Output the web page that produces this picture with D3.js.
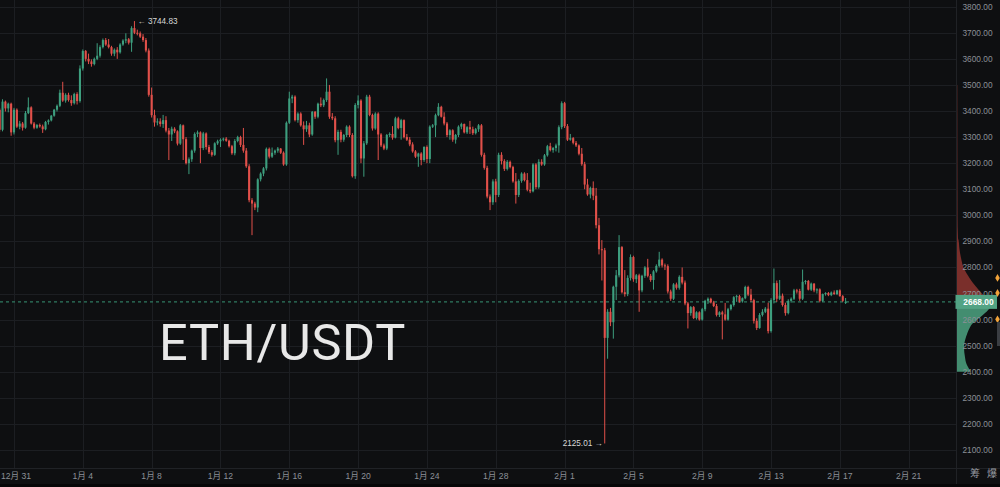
<!DOCTYPE html>
<html><head><meta charset="utf-8">
<script src="https://cdn.jsdelivr.net/npm/d3@7/dist/d3.min.js"></script>
<style>html,body{margin:0;padding:0;background:#0e0f11;overflow:hidden}</style>
</head><body>
<svg id="c" width="1000" height="487"></svg>
<script>
// ---------- DATA ----------
const title = "ETH/USDT";
const lastPrice = 2668.00;
const yTicks = [2100,2200,2300,2400,2500,2600,2700,2800,2900,3000,3100,3200,3300,3400,3500,3600,3700,3800];
const xTickDates = ["2024-12-31","2025-01-04","2025-01-08","2025-01-12","2025-01-16","2025-01-20","2025-01-24","2025-01-28","2025-02-01","2025-02-05","2025-02-09","2025-02-13","2025-02-17","2025-02-21"];
const xTickLabels = ["12月 31","1月 4","1月 8","1月 12","1月 16","1月 20","1月 24","1月 28","2月 1","2月 5","2月 9","2月 13","2月 17","2月 21"];
// 4-hour candles [open, high, low, close], grouped by day (local time); first day starts at 04:00
const days = ["2024-12-30","2024-12-31","2025-01-01","2025-01-02","2025-01-03","2025-01-04","2025-01-05","2025-01-06","2025-01-07","2025-01-08","2025-01-09","2025-01-10","2025-01-11","2025-01-12","2025-01-13","2025-01-14","2025-01-15","2025-01-16","2025-01-17","2025-01-18","2025-01-19","2025-01-20","2025-01-21","2025-01-22","2025-01-23","2025-01-24","2025-01-25","2025-01-26","2025-01-27","2025-01-28","2025-01-29","2025-01-30","2025-01-31","2025-02-01","2025-02-02","2025-02-03","2025-02-04","2025-02-05","2025-02-06","2025-02-07","2025-02-08","2025-02-09","2025-02-10","2025-02-11","2025-02-12","2025-02-13","2025-02-14","2025-02-15","2025-02-16","2025-02-17"];
const firstDayStartSlot = 1;
const candlesByDay = [
 [[3405,3412,3320,3328],[3328,3445,3322,3436],[3436,3440,3398,3410],[3410,3432,3395,3428],[3428,3432,3305,3318]],
 [[3318,3412,3310,3405],[3405,3410,3335,3340],[3340,3362,3330,3352],[3352,3358,3325,3336],[3336,3400,3332,3392],[3392,3452,3388,3414]],
 [[3414,3418,3348,3352],[3352,3358,3330,3336],[3336,3350,3332,3346],[3346,3352,3336,3341],[3341,3348,3316,3330],[3330,3362,3326,3358]],
 [[3358,3368,3348,3364],[3364,3385,3360,3382],[3382,3408,3378,3405],[3405,3425,3398,3420],[3420,3482,3415,3470],[3470,3512,3435,3440]],
 [[3440,3468,3432,3462],[3462,3470,3436,3442],[3442,3460,3420,3430],[3430,3470,3425,3465],[3465,3472,3425,3438],[3438,3575,3432,3563]],
 [[3563,3636,3555,3630],[3630,3634,3590,3600],[3600,3620,3580,3590],[3590,3598,3570,3580],[3580,3605,3575,3600],[3600,3660,3595,3612]],
 [[3612,3652,3605,3645],[3645,3678,3640,3672],[3672,3680,3650,3655],[3655,3676,3640,3645],[3645,3650,3612,3620],[3620,3640,3610,3635]],
 [[3635,3645,3600,3625],[3625,3660,3620,3655],[3655,3675,3650,3670],[3670,3698,3660,3675],[3675,3680,3655,3662],[3662,3725,3627,3718]],
 [[3718,3744.83,3695,3700],[3700,3712,3690,3698],[3698,3705,3680,3685],[3685,3695,3665,3672],[3672,3680,3625,3632],[3632,3640,3455,3462]],
 [[3462,3490,3375,3384],[3384,3405,3340,3356],[3356,3372,3345,3360],[3360,3372,3340,3350],[3350,3385,3335,3365],[3365,3380,3318,3325]],
 [[3325,3335,3212,3310],[3310,3340,3285,3332],[3332,3338,3315,3322],[3322,3326,3268,3275],[3275,3350,3270,3345],[3345,3348,3212,3292]],
 [[3292,3300,3195,3200],[3200,3222,3158,3215],[3215,3252,3205,3248],[3248,3318,3240,3312],[3312,3325,3300,3318],[3318,3322,3200,3258]],
 [[3258,3320,3250,3314],[3314,3318,3252,3262],[3262,3270,3235,3242],[3242,3250,3225,3232],[3232,3280,3228,3276],[3276,3290,3270,3284]],
 [[3284,3295,3262,3290],[3290,3298,3284,3294],[3294,3300,3282,3286],[3286,3290,3260,3265],[3265,3270,3232,3238],[3238,3292,3230,3285]],
 [[3285,3305,3280,3300],[3300,3305,3262,3270],[3270,3335,3240,3248],[3248,3258,3182,3188],[3188,3196,3050,3058],[3058,3066,2924,3045]],
 [[3045,3052,3020,3030],[3030,3142,3012,3138],[3138,3165,3130,3160],[3160,3185,3150,3180],[3180,3260,3172,3255],[3255,3260,3218,3225]],
 [[3225,3260,3220,3240],[3240,3252,3232,3248],[3248,3262,3240,3256],[3256,3258,3235,3240],[3240,3245,3190,3195],[3195,3360,3190,3355]],
 [[3355,3474,3350,3448],[3448,3462,3430,3455],[3455,3460,3360,3365],[3365,3395,3355,3390],[3390,3395,3340,3345],[3345,3360,3270,3330]],
 [[3330,3362,3320,3345],[3345,3355,3300,3310],[3310,3400,3305,3397],[3397,3400,3370,3378],[3378,3432,3372,3428],[3428,3452,3415,3422]],
 [[3422,3448,3415,3442],[3442,3525,3435,3474],[3474,3500,3370,3378],[3378,3392,3365,3372],[3372,3380,3280,3288],[3288,3328,3232,3320]],
 [[3320,3328,3280,3290],[3290,3312,3282,3308],[3308,3345,3300,3340],[3340,3345,3300,3308],[3308,3315,3145,3150],[3150,3430,3140,3423]],
 [[3423,3460,3410,3440],[3440,3445,3200,3218],[3218,3285,3148,3276],[3276,3462,3270,3455],[3455,3462,3380,3385],[3385,3390,3325,3333]],
 [[3333,3395,3328,3390],[3390,3395,3212,3310],[3310,3315,3262,3268],[3268,3275,3250,3256],[3256,3312,3250,3308],[3308,3318,3300,3312]],
 [[3312,3342,3290,3298],[3298,3378,3295,3372],[3372,3378,3330,3335],[3335,3370,3290,3365],[3365,3368,3295,3300],[3300,3312,3285,3290]],
 [[3290,3300,3265,3272],[3272,3280,3240,3245],[3245,3250,3220,3225],[3225,3240,3186,3237],[3237,3242,3192,3212],[3212,3265,3205,3262]],
 [[3262,3268,3200,3216],[3216,3345,3200,3340],[3340,3350,3335,3345],[3345,3390,3300,3384],[3384,3430,3380,3416],[3416,3420,3375,3378]],
 [[3378,3395,3345,3352],[3352,3358,3300,3308],[3308,3330,3290,3326],[3326,3330,3282,3290],[3290,3312,3275,3308],[3308,3345,3300,3340]],
 [[3340,3355,3330,3350],[3350,3352,3314,3318],[3318,3342,3312,3338],[3338,3362,3312,3330],[3330,3340,3308,3315],[3315,3335,3310,3330]],
 [[3330,3350,3320,3345],[3345,3350,3225,3232],[3232,3240,3175,3182],[3182,3190,3065,3072],[3072,3080,3020,3050],[3050,3138,3040,3130]],
 [[3130,3140,3050,3078],[3078,3240,3070,3232],[3232,3242,3195,3208],[3208,3215,3170,3178],[3178,3212,3172,3205],[3205,3210,3180,3185]],
 [[3185,3190,3125,3130],[3130,3162,3045,3078],[3078,3138,3070,3132],[3132,3165,3125,3160],[3160,3165,3130,3135],[3135,3162,3092,3098]],
 [[3098,3125,3085,3092],[3092,3200,3088,3195],[3195,3200,3100,3108],[3108,3215,3102,3205],[3205,3215,3190,3195],[3195,3235,3190,3230]],
 [[3230,3270,3225,3265],[3265,3278,3245,3250],[3250,3262,3240,3258],[3258,3275,3245,3268],[3268,3345,3240,3338],[3338,3437,3330,3430]],
 [[3430,3435,3335,3342],[3342,3350,3285,3290],[3290,3312,3286,3296],[3296,3300,3272,3278],[3278,3285,3262,3268],[3268,3272,3230,3236]],
 [[3236,3258,3190,3196],[3196,3205,3100,3118],[3118,3140,3075,3080],[3080,3110,3065,3105],[3105,3130,3058,3075],[3075,3105,2950,2962]],
 [[2962,2990,2850,2870],[2870,2905,2750,2866],[2866,2875,2125.01,2530],[2530,2640,2450,2630],[2630,2645,2575,2590],[2590,2730,2527,2726]],
 [[2726,2790,2675,2770],[2770,2924,2762,2878],[2878,2882,2700,2705],[2705,2790,2688,2698],[2698,2770,2690,2760],[2760,2850,2750,2840]],
 [[2840,2845,2745,2755],[2755,2775,2740,2770],[2770,2776,2630,2712],[2712,2772,2705,2768],[2768,2805,2760,2800],[2800,2833,2762,2768]],
 [[2768,2775,2745,2752],[2752,2790,2715,2785],[2785,2812,2780,2806],[2806,2860,2800,2830],[2830,2835,2800,2808],[2808,2815,2790,2805]],
 [[2805,2812,2700,2708],[2708,2715,2672,2680],[2680,2740,2675,2735],[2735,2742,2715,2722],[2722,2770,2715,2764],[2764,2800,2735,2742]],
 [[2742,2750,2655,2662],[2662,2668,2566,2625],[2625,2652,2615,2648],[2648,2652,2602,2606],[2606,2632,2600,2628],[2628,2632,2596,2600]],
 [[2600,2645,2596,2640],[2640,2676,2632,2672],[2672,2685,2660,2680],[2680,2684,2662,2666],[2666,2672,2648,2652],[2652,2660,2612,2618]],
 [[2618,2632,2610,2628],[2628,2634,2524,2620],[2620,2664,2596,2600],[2600,2645,2596,2640],[2640,2660,2635,2656],[2656,2690,2650,2686]],
 [[2686,2695,2668,2690],[2690,2695,2665,2670],[2670,2685,2665,2682],[2682,2730,2678,2725],[2725,2730,2690,2696],[2696,2718,2668,2675]],
 [[2675,2680,2585,2595],[2595,2605,2560,2568],[2568,2625,2565,2618],[2618,2640,2612,2630],[2630,2648,2625,2642],[2642,2665,2547,2556]],
 [[2556,2682,2550,2675],[2675,2796,2662,2740],[2740,2750,2668,2680],[2680,2752,2675,2692],[2692,2700,2650,2656],[2656,2665,2615,2625]],
 [[2625,2678,2620,2672],[2672,2685,2665,2680],[2680,2718,2675,2712],[2712,2718,2700,2710],[2710,2718,2672,2680],[2680,2792,2675,2745]],
 [[2745,2752,2735,2748],[2748,2752,2712,2715],[2715,2742,2710,2738],[2738,2740,2705,2712],[2712,2720,2700,2716],[2716,2720,2666,2672]],
 [[2672,2700,2668,2698],[2698,2705,2692,2702],[2702,2706,2690,2694],[2694,2708,2690,2704],[2704,2712,2695,2698],[2698,2714,2694,2712]],
 [[2712,2716,2688,2690],[2690,2694,2668,2672],[2664,2683,2660,2668]]
];
// price-level profile on the right axis
const profileUpPrices = [3500,3000,2912,2905,2870,2828,2800,2778,2760,2740,2713,2694,2668];
const profileUpValues = [0.8,1,1.5,2,3,5,7,10,13,16.5,22.5,27,30];
const profileDownPrices = [2668,2644,2625,2610,2598,2585,2571,2550,2533,2494,2456,2430,2418,2400];
const profileDownValues = [35,33,28.5,24,20,16,13.5,11,9.5,7.5,8.5,10,11.5,14];
const markerPrices = [2760,2702,2601];
const highLabel = {price:3744.83, day:"2025-01-07", slot:0, text:"← 3744.83"};
const lowLabel = {price:2125.01, day:"2025-02-03", slot:2, text:"2125.01 →"};

// ---------- DRAW ----------
const W = 1000, H = 487, plotR = 956.5, axisY = 468.5;
const svg = d3.select("#c");
const parseDay = s => { const [y,m,d] = s.split("-").map(Number); return new Date(y, m-1, d); };
const atSlot = (s, slot) => { const d = parseDay(s); d.setHours(slot*4); return d; };

const x = d3.scaleTime().domain([parseDay("2024-12-31"), parseDay("2025-02-21")]).range([14, 908.7]);
const y = d3.scaleLinear().domain([2100, 3800]).range([450, 6.7]);

const candles = [];
days.forEach((ds, di) => {
  candlesByDay[di].forEach((c, j) => {
    const slot = j + (di === 0 ? firstDayStartSlot : 0);
    candles.push({t: atSlot(ds, slot), o:c[0], h:c[1], l:c[2], c:c[3]});
  });
});

svg.append("rect").attr("width", W).attr("height", H).attr("fill", "#0e0f11");

const clip = svg.append("defs").append("clipPath").attr("id","plot");
clip.append("rect").attr("x",0).attr("y",0).attr("width",plotR).attr("height",axisY);

// grid
const grid = svg.append("g");
grid.selectAll("line.h").data(yTicks).join("line")
  .attr("x1",0).attr("x2",plotR).attr("y1",d=>Math.round(y(d))+0.5).attr("y2",d=>Math.round(y(d))+0.5)
  .attr("stroke","#1c1e22").attr("stroke-width",1);
grid.selectAll("line.v").data(xTickDates).join("line")
  .attr("x1",d=>Math.round(x(parseDay(d)))+0.5).attr("x2",d=>Math.round(x(parseDay(d)))+0.5)
  .attr("y1",0).attr("y2",axisY)
  .attr("stroke","#1c1e22").attr("stroke-width",1);

// axes frame lines
svg.append("line").attr("x1",0).attr("x2",W).attr("y1",axisY).attr("y2",axisY).attr("stroke","#202226");
svg.append("line").attr("x1",plotR).attr("x2",plotR).attr("y1",0).attr("y2",H).attr("stroke","#202226");
svg.append("rect").attr("x",0).attr("y",484).attr("width",W).attr("height",3).attr("fill","#060607");

// title
svg.append("text").attr("x",159).attr("y",360).text(title)
  .attr("font-family","Roboto, 'Noto Sans', sans-serif").attr("font-size",50.5).attr("font-weight",400)
  .attr("letter-spacing",0.7)
  .attr("fill","#e8e8e8");

// last price dashed line
svg.append("line").attr("x1",0).attr("x2",plotR).attr("y1",y(lastPrice)).attr("y2",y(lastPrice))
  .attr("stroke","#2f7a60").attr("stroke-width",1.2).attr("stroke-dasharray","3,3");

// candles
const up = "#3d9e7e", down = "#e1504a";
const cg = svg.append("g").attr("clip-path","url(#plot)");
const bw = 2.1;
cg.selectAll("line.wick").data(candles).join("line")
  .attr("x1",d=>x(d.t)).attr("x2",d=>x(d.t)).attr("y1",d=>y(d.h)).attr("y2",d=>y(d.l))
  .attr("stroke",d=>d.c>=d.o?up:down).attr("stroke-width",1);
cg.selectAll("rect.body").data(candles).join("rect")
  .attr("x",d=>x(d.t)-bw/2).attr("width",bw)
  .attr("y",d=>y(Math.max(d.o,d.c)))
  .attr("height",d=>Math.max(1, Math.abs(y(d.o)-y(d.c))))
  .attr("fill",d=>d.c>=d.o?up:down);

// high / low annotations
const lblFont = "'Liberation Sans', Arial, sans-serif";
svg.append("text").attr("x", x(atSlot(highLabel.day, highLabel.slot))+3).attr("y", y(highLabel.price)+2.8)
  .text(highLabel.text).attr("font-family",lblFont).attr("font-size",8.2).attr("fill","#d8d8d8");
svg.append("text").attr("x", x(atSlot(lowLabel.day, lowLabel.slot))-2).attr("y", y(lowLabel.price)+2.8)
  .attr("text-anchor","end")
  .text(lowLabel.text).attr("font-family",lblFont).attr("font-size",8.2).attr("fill","#d8d8d8");

// right profile
const pw = d3.scaleLinear().domain([0, 40]).range([plotR, plotR+40]);
const upData = profileUpPrices.map((p,i)=>({p, v:profileUpValues[i]}));
const dnData = profileDownPrices.map((p,i)=>({p, v:profileDownValues[i]}));
const area = d3.area().y(d=>y(d.p)).x0(plotR+0.5).x1(d=>pw(d.v)).curve(d3.curveMonotoneY);
svg.append("path").datum(upData).attr("d",area).attr("fill","#7a2f2b");
svg.append("path").datum(dnData).attr("d",area).attr("fill","#438d70");

// y labels
svg.selectAll("text.yl").data(yTicks).join("text")
  .attr("x",962.5).attr("y",d=>y(d)+3).text(d=>d.toFixed(2))
  .attr("font-family",lblFont).attr("font-size",8.3).attr("fill","#8c9097");

// last price box
const lp = y(lastPrice);
svg.append("rect").attr("x",955.5).attr("y",lp-7).attr("width",41.5).attr("height",14).attr("fill","#52a384");
svg.append("text").attr("x",978.5).attr("y",lp+3).attr("text-anchor","middle").text(lastPrice.toFixed(2))
  .attr("font-family",lblFont).attr("font-size",8.4).attr("font-weight",700).attr("fill","#ffffff");

// markers
svg.selectAll("path.mk").data(markerPrices).join("path")
  .attr("d", d3.symbol().type(d3.symbolDiamond).size(18))
  .attr("transform", d=>`translate(997.5,${y(d)})`).attr("fill","#f2a33a");
svg.append("rect").attr("x",997).attr("y",322).attr("width",3).attr("height",24).attr("fill","#3a3d42");

// x labels
const xl = svg.selectAll("text.xl").data(xTickDates).join("text")
  .attr("x",(d)=>x(parseDay(d))).attr("y",479).attr("text-anchor","middle")
  .text((d,i)=>xTickLabels[i])
  .attr("font-family","'Liberation Sans', 'Noto Sans CJK SC', sans-serif").attr("font-size",8.6).attr("fill","#8c9097");
xl.each(function(){
  const bb = this.getBBox();
  if (bb.x < 1) d3.select(this).attr("x", +d3.select(this).attr("x") + (1 - bb.x));
});

svg.append("text").attr("x",975).attr("y",476.5).attr("text-anchor","middle").text("筹")
  .attr("font-family","'Noto Sans CJK SC', sans-serif").attr("font-size",10).attr("fill","#9a9da3");
svg.append("text").attr("x",992).attr("y",476.5).attr("text-anchor","middle").text("爆")
  .attr("font-family","'Noto Sans CJK SC', sans-serif").attr("font-size",10).attr("fill","#9a9da3");
</script>
</body></html>
